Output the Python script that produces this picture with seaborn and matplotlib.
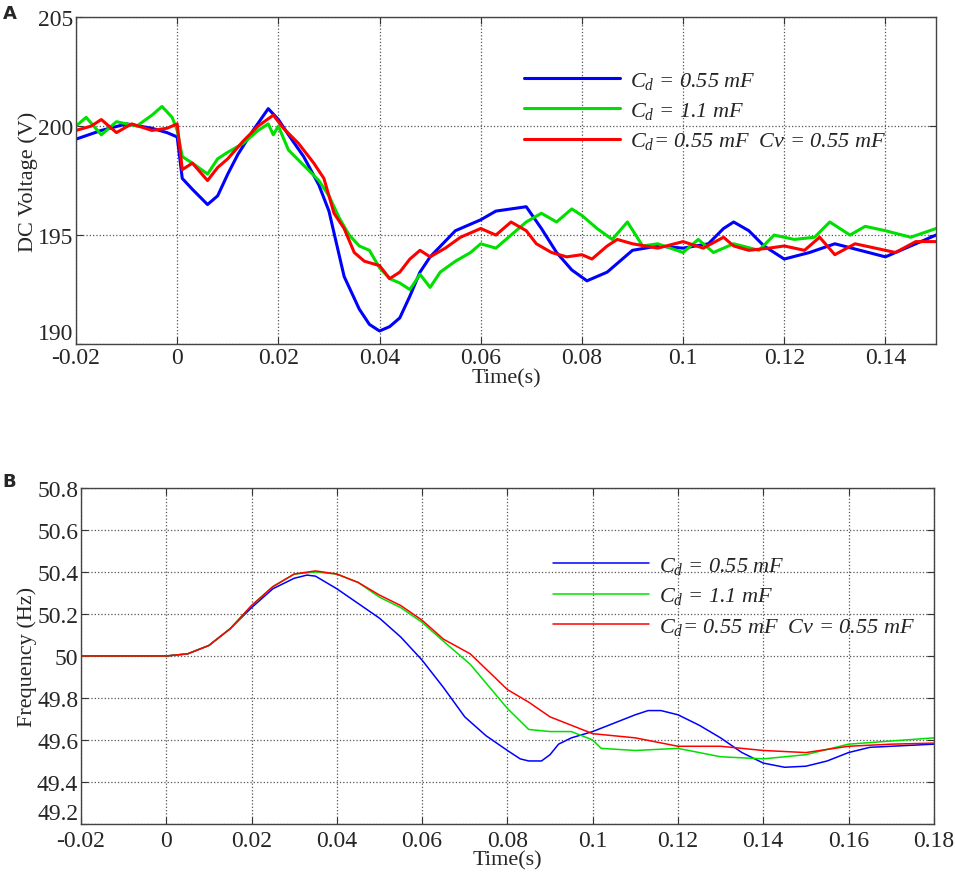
import numpy as np
import pandas as pd
import matplotlib
matplotlib.use('Agg')
import matplotlib.pyplot as plt
import seaborn as sns

# Panel A: DC voltage
t_blue_a = [-0.02, -0.015, -0.01, -0.005, -0.002, 0.0, 0.001, 0.003, 0.006, 0.008, 0.01, 0.012,
            0.015, 0.018, 0.02, 0.022, 0.025, 0.028, 0.03, 0.033, 0.036, 0.038, 0.04, 0.042,
            0.044, 0.046, 0.048, 0.05, 0.055, 0.06, 0.063, 0.066, 0.069, 0.072, 0.075, 0.078,
            0.081, 0.085, 0.09, 0.095, 0.1, 0.105, 0.108, 0.11, 0.113, 0.116, 0.12, 0.125,
            0.13, 0.135, 0.14, 0.145, 0.15]
v_blue_a = [199.4, 199.8, 200.1, 199.9, 199.7, 199.5, 197.6, 197.1, 196.4, 196.8, 197.8, 198.7,
            199.8, 200.8, 200.3, 199.6, 198.6, 197.3, 196.1, 193.1, 191.6, 190.9, 190.6, 190.8,
            191.2, 192.2, 193.3, 194.0, 195.2, 195.7, 196.1, 196.2, 196.3, 195.3, 194.2, 193.4,
            192.9, 193.3, 194.3, 194.5, 194.4, 194.6, 195.3, 195.6, 195.2, 194.5, 193.9, 194.2,
            194.6, 194.3, 194.0, 194.5, 195.0]

t_green_a = [-0.02, -0.018, -0.015, -0.012, -0.008, -0.005, -0.003, -0.001, 0.0, 0.001, 0.003,
             0.006, 0.008, 0.01, 0.013, 0.016, 0.018, 0.019, 0.02, 0.022, 0.025, 0.028, 0.03,
             0.032, 0.034, 0.036, 0.038, 0.04, 0.042, 0.044, 0.046, 0.048, 0.05, 0.052, 0.055,
             0.058, 0.06, 0.063, 0.066, 0.069, 0.072, 0.075, 0.078, 0.08, 0.083, 0.086, 0.089,
             0.092, 0.095, 0.1, 0.103, 0.106, 0.11, 0.115, 0.118, 0.122, 0.126, 0.129, 0.133,
             0.136, 0.14, 0.145, 0.15]
v_green_a = [200.0, 200.4, 199.6, 200.2, 200.0, 200.5, 200.9, 200.4, 199.8, 198.6, 198.3,
             197.8, 198.5, 198.8, 199.2, 199.8, 200.1, 199.6, 200.0, 198.9, 198.2, 197.5, 196.8,
             195.8, 195.0, 194.5, 194.3, 193.5, 193.0, 192.8, 192.5, 193.2, 192.6, 193.3, 193.8,
             194.2, 194.6, 194.4, 195.0, 195.6, 196.0, 195.6, 196.2, 195.9, 195.3, 194.8, 195.6,
             194.5, 194.6, 194.2, 194.8, 194.2, 194.6, 194.3, 195.0, 194.8, 194.9, 195.6, 195.0,
             195.4, 195.2, 194.9, 195.3]

t_red_a = [-0.02, -0.017, -0.015, -0.012, -0.009, -0.005, -0.002, 0.0, 0.001, 0.003, 0.006,
           0.008, 0.01, 0.013, 0.016, 0.019, 0.021, 0.024, 0.027, 0.029, 0.031, 0.033, 0.035,
           0.037, 0.04, 0.042, 0.044, 0.046, 0.048, 0.05, 0.053, 0.056, 0.06, 0.063, 0.066,
           0.069, 0.071, 0.074, 0.077, 0.08, 0.082, 0.085, 0.087, 0.09, 0.095, 0.1, 0.104,
           0.108, 0.11, 0.113, 0.117, 0.12, 0.124, 0.127, 0.13, 0.134, 0.138, 0.142, 0.146, 0.15]
v_red_a = [199.8, 200.0, 200.3, 199.7, 200.1, 199.8, 199.9, 200.1, 198.0, 198.3, 197.5,
           198.1, 198.5, 199.3, 200.0, 200.5, 199.9, 199.2, 198.3, 197.6, 196.0, 195.3, 194.2,
           193.8, 193.6, 193.0, 193.3, 193.9, 194.3, 194.0, 194.4, 194.9, 195.3, 195.0, 195.6,
           195.2, 194.6, 194.2, 194.0, 194.1, 193.9, 194.5, 194.8, 194.6, 194.4, 194.7, 194.4,
           194.9, 194.5, 194.3, 194.4, 194.5, 194.3, 194.9, 194.1, 194.6, 194.4, 194.2, 194.7, 194.7]

# Panel B: frequency
t_common_b = [-0.02, 0.0, 0.005, 0.01, 0.015, 0.02]
f_common_b = [50.0, 50.0, 50.01, 50.05, 50.13, 50.24]

t_blue_b = t_common_b + [0.025, 0.03, 0.033, 0.035, 0.04, 0.045, 0.05, 0.055, 0.06, 0.065, 0.07,
                         0.075, 0.08, 0.083, 0.085, 0.088, 0.09, 0.092, 0.095, 0.1, 0.105, 0.11,
                         0.113, 0.116, 0.12, 0.125, 0.13, 0.135, 0.14, 0.145, 0.15, 0.155, 0.16,
                         0.165, 0.17, 0.18]
f_blue_b = f_common_b[:-1] + [50.23] + [50.32, 50.37, 50.385, 50.38, 50.32, 50.25, 50.18, 50.09,
                                       49.98, 49.85, 49.71, 49.62, 49.55, 49.51, 49.50, 49.50,
                                       49.53, 49.58, 49.61, 49.64, 49.68, 49.72, 49.74, 49.74,
                                       49.72, 49.67, 49.61, 49.54, 49.49, 49.47, 49.475, 49.50,
                                       49.54, 49.565, 49.57, 49.58]

t_green_b = t_common_b + [0.025, 0.03, 0.035, 0.04, 0.045, 0.05, 0.055, 0.06, 0.065, 0.0713, 0.08,
                          0.085, 0.09, 0.095, 0.1, 0.102, 0.11, 0.12, 0.13, 0.14, 0.15, 0.16,
                          0.17, 0.18]
f_green_b = f_common_b + [50.33, 50.39, 50.40, 50.39, 50.35, 50.28, 50.23, 50.16, 50.07, 49.96,
                          49.75, 49.65, 49.64, 49.64, 49.60, 49.56, 49.55, 49.56, 49.52, 49.51,
                          49.53, 49.58, 49.595, 49.61]

t_red_b = t_common_b + [0.025, 0.03, 0.035, 0.04, 0.045, 0.05, 0.055, 0.06, 0.065, 0.0713, 0.08,
                        0.085, 0.09, 0.095, 0.1, 0.11, 0.12, 0.13, 0.14, 0.15, 0.16, 0.17, 0.18]
f_red_b = f_common_b + [50.33, 50.39, 50.405, 50.39, 50.35, 50.29, 50.24, 50.17, 50.08, 50.01,
                        49.84, 49.78, 49.71, 49.67, 49.63, 49.61, 49.57, 49.57, 49.55, 49.54,
                        49.57, 49.58, 49.585]

xticks_a = [-0.02, 0, 0.02, 0.04, 0.06, 0.08, 0.1, 0.12, 0.14]
xticklabels_a = ['-0.02', '0', '0.02', '0.04', '0.06', '0.08', '0.1', '0.12', '0.14']
yticks_a = [190, 195, 200, 205]
xticks_b = [-0.02, 0, 0.02, 0.04, 0.06, 0.08, 0.1, 0.12, 0.14, 0.16, 0.18]
xticklabels_b = ['-0.02', '0', '0.02', '0.04', '0.06', '0.08', '0.1', '0.12', '0.14', '0.16', '0.18']
yticks_b = [49.2, 49.4, 49.6, 49.8, 50, 50.2, 50.4, 50.6, 50.8]
yticklabels_b = ['49.2', '49.4', '49.6', '49.8', '50', '50.2', '50.4', '50.6', '50.8']

labels = [r'$C_d$ = 0.55 mF', r'$C_d$ = 1.1 mF', r'$C_d$= 0.55 mF  $Cv$ = 0.55 mF']
colors = ['#0000ff', '#00e000', '#ff0000']

sns.set_style('ticks')
plt.rcParams['font.family'] = ['Liberation Serif', 'DejaVu Serif']
plt.rcParams['mathtext.fontset'] = 'custom'
plt.rcParams['mathtext.rm'] = 'Liberation Serif'
plt.rcParams['mathtext.it'] = 'Liberation Serif:italic'

fig = plt.figure(figsize=(9.55, 8.78), dpi=100)
ax_a = fig.add_axes([0.0796, 0.607, 0.9005, 0.3724])
ax_b = fig.add_axes([0.0848, 0.0604, 0.893, 0.3827])


def style_axes(ax, xpad=2):
    ax.grid(True, linestyle=':', color='#555555', linewidth=0.9)
    ax.tick_params(direction='in', top=True, right=True, labelsize=17, length=5, color='#333333')
    ax.tick_params(axis='x', pad=xpad)
    ax.tick_params(axis='y', pad=2)
    for s in ax.spines.values():
        s.set_color('#444444')
        s.set_linewidth(1.0)
    ax.set_xlabel('Time(s)', fontsize=16, labelpad=0)


leg_prop = {'family': 'Liberation Serif', 'style': 'italic', 'size': 16}

# panel A
series_a = [(t_blue_a, v_blue_a), (t_green_a, v_green_a), (t_red_a, v_red_a)]
for (t, v), c, lab in zip(series_a, colors, labels):
    df = pd.DataFrame({'t': t, 'v': v})
    sns.lineplot(data=df, x='t', y='v', ax=ax_a, color=c, linewidth=2.2, label=lab,
                 estimator=None, sort=False)
ax_a.set_xlim(-0.02, 0.15)
ax_a.set_ylim(190, 205)
ax_a.set_xticks(xticks_a)
ax_a.set_xticklabels(xticklabels_a)
ax_a.set_yticks(yticks_a)
ax_a.set_yticklabels([str(v) for v in yticks_a])
ax_a.set_ylabel('DC Voltage (V)', fontsize=16, labelpad=0)
style_axes(ax_a)
ax_a.get_yticklabels()[0].set_verticalalignment('bottom')
ax_a.legend(loc='upper left', bbox_to_anchor=(0.498, 0.9), frameon=False, prop=leg_prop,
            handlelength=4.3, handletextpad=0.45, labelspacing=0.42)

# panel B
series_b = [(t_blue_b, f_blue_b), (t_green_b, f_green_b), (t_red_b, f_red_b)]
for (t, f), c, lab in zip(series_b, colors, labels):
    df = pd.DataFrame({'t': t, 'f': f})
    sns.lineplot(data=df, x='t', y='f', ax=ax_b, color=c, linewidth=1.1, label=lab,
                 estimator=None, sort=False)
ax_b.set_xlim(-0.02, 0.18)
ax_b.set_ylim(49.2, 50.8)
ax_b.set_xticks(xticks_b)
ax_b.set_xticklabels(xticklabels_b)
ax_b.set_yticks(yticks_b)
ax_b.set_yticklabels(yticklabels_b)
ax_b.set_ylabel('Frequency (Hz)', fontsize=16, labelpad=0)
style_axes(ax_b, xpad=4)
ax_b.get_yticklabels()[0].set_verticalalignment('bottom')
ax_b.legend(loc='upper left', bbox_to_anchor=(0.53, 0.86), frameon=False, prop=leg_prop,
            handlelength=4.3, handletextpad=0.45, labelspacing=0.42)

fig.text(0.003, 0.994, 'A', fontsize=13, fontweight='bold', family='DejaVu Sans', va='top')
fig.text(0.003, 0.461, 'B', fontsize=13, fontweight='bold', family='DejaVu Sans', va='top')

fig.savefig('out.png', dpi=100)
